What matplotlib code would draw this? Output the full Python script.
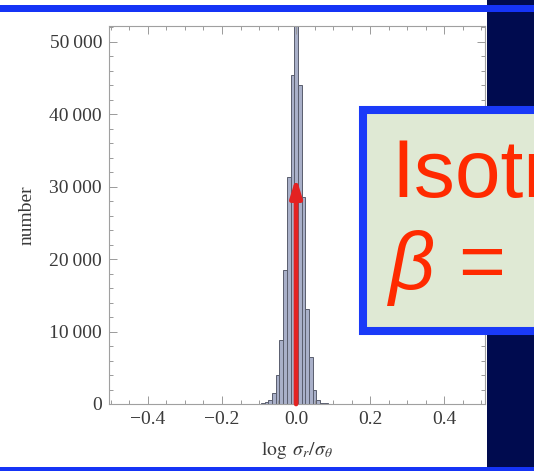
import matplotlib
matplotlib.use('Agg')
import matplotlib.pyplot as plt
from matplotlib.patches import Rectangle
from matplotlib.ticker import MultipleLocator, FixedLocator

plt.rcParams['font.family'] = ['Liberation Serif', 'DejaVu Serif']
plt.rcParams['mathtext.fontset'] = 'stix'

# histogram of log(sigma_r / sigma_theta), bin width 0.01
bin_centers = [-0.10, -0.09, -0.08, -0.07, -0.06, -0.05, -0.04, -0.03, -0.02, -0.01,
               0.00, 0.01, 0.02, 0.03, 0.04, 0.05, 0.06, 0.07, 0.08, 0.09]
counts = [30, 90, 220, 560, 1500, 4000, 8900, 18500, 31400, 45400,
          52600, 44100, 28600, 13100, 6500, 1950, 560, 200, 80, 30]
bin_width = 0.01

arrow_x = 0.0
arrow_top = 31300

y_ticks = [0, 10000, 20000, 30000, 40000, 50000]
y_labels = ['0', '10\u2009000', '20\u2009000', '30\u2009000', '40\u2009000', '50\u2009000']
x_ticks = [-0.4, -0.2, 0.0, 0.2, 0.4]
x_labels = ['\u22120.4', '\u22120.2', '0.0', '0.2', '0.4']

navy = '#000b4f'
blue = '#1534f6'
W, H = 534, 471

fig = plt.figure(figsize=(W / 100, H / 100), dpi=100)

# slide background: navy strip and blue rules
bg = fig.add_axes([0, 0, 1, 1], zorder=0)
bg.set_xlim(0, W)
bg.set_ylim(H, 0)
bg.axis('off')
bg.add_patch(Rectangle((487, 0), 50, H, color=navy, lw=0))
bg.add_patch(Rectangle((0, 5), W, 7, color=blue, lw=0))
bg.add_patch(Rectangle((0, 467), W, 5, color=blue, lw=0))

# the histogram
ax = fig.add_axes([109 / W, 67 / H, 376 / W, 378 / H], zorder=1)
ax.bar(bin_centers, counts, width=bin_width, color='#a9b0c9',
       edgecolor='#5a5e6e', linewidth=0.7)
ax.annotate('', xy=(arrow_x, arrow_top), xytext=(arrow_x, 0),
            arrowprops=dict(arrowstyle='-|>,head_width=0.17,head_length=0.55',
                            color='#e32222', lw=3.4, mutation_scale=20,
                            shrinkA=0, shrinkB=0))
ax.set_xlim(-0.505, 0.51)
ax.set_ylim(0, 52200)
ax.xaxis.set_major_locator(FixedLocator(x_ticks))
ax.xaxis.set_minor_locator(MultipleLocator(0.05))
ax.yaxis.set_major_locator(FixedLocator(y_ticks))
ax.yaxis.set_minor_locator(MultipleLocator(2000))
ax.set_xticklabels(x_labels)
ax.set_yticklabels(y_labels)
ax.tick_params(which='both', direction='in', top=True, right=True,
               color='#9a9a9a', width=0.7, labelsize=14, labelcolor='#3a3a3a')
ax.tick_params(which='major', length=6, pad=5)
ax.tick_params(which='minor', length=3)
for sp in ax.spines.values():
    sp.set_color('#a0a0a0')
    sp.set_linewidth(0.8)
ax.set_xlabel(r'$\log\ \sigma_r/\sigma_\theta$', fontsize=14, color='#3a3a3a', labelpad=8)
ax.set_ylabel('number', fontsize=14, color='#3a3a3a', labelpad=10)

# callout box on top
ov = fig.add_axes([0, 0, 1, 1], zorder=2)
ov.set_xlim(0, W)
ov.set_ylim(H, 0)
ov.axis('off')
ov.add_patch(Rectangle((363, 110), 260, 220.5, facecolor='#dfe9d4',
                       edgecolor='#1a3af8', lw=5.8))
ov.text(391, 197, 'Isotropic', color='#ff2a00', fontsize=59,
        family='Liberation Sans', va='baseline', ha='left')
ov.text(389, 289, '\u03b2', color='#ff2a00', fontsize=58,
        family='Liberation Sans', style='italic', va='baseline', ha='left')
ov.text(458, 289, '=', color='#ff2a00', fontsize=58,
        family='Liberation Sans', va='baseline', ha='left')

fig.savefig('out.png', dpi=100)
